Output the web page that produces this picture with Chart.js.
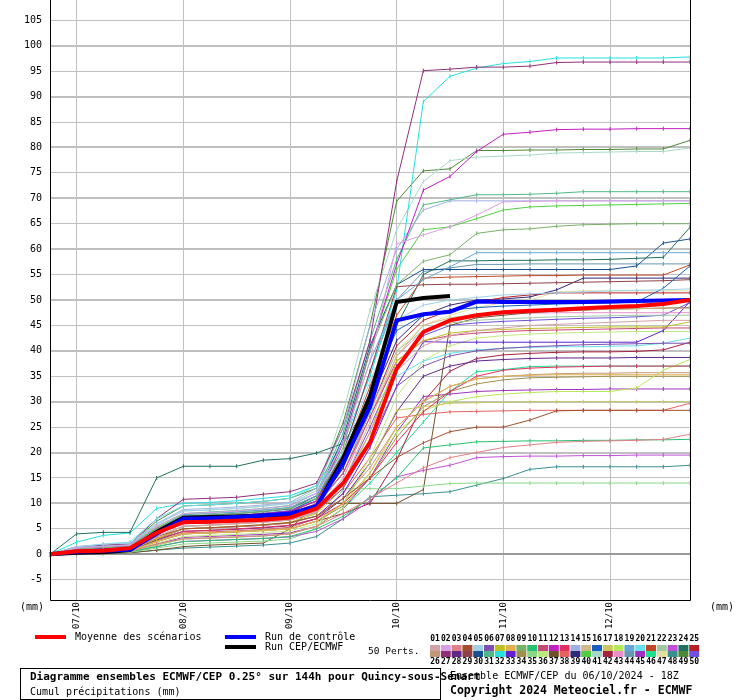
<!DOCTYPE html>
<html>
<head>
<meta charset="utf-8">
<script src="https://cdn.jsdelivr.net/npm/chart.js@4.4.1/dist/chart.umd.min.js"></script>
<style>
body { margin: 0; background: #fff; }
</style>
</head>
<body>
<canvas id="myChart" width="740" height="700"></canvas>
<script>
//time steps (6h) from 06/10 18Z to 12/10 18Z
const steps = ['06/10 18Z', '07/10 00Z', '07/10 06Z', '07/10 12Z', '07/10 18Z',
    '08/10 00Z', '08/10 06Z', '08/10 12Z', '08/10 18Z',
    '09/10 00Z', '09/10 06Z', '09/10 12Z', '09/10 18Z',
    '10/10 00Z', '10/10 06Z', '10/10 12Z', '10/10 18Z',
    '11/10 00Z', '11/10 06Z', '11/10 12Z', '11/10 18Z',
    '12/10 00Z', '12/10 06Z', '12/10 12Z', '12/10 18Z'];
const yTicks = [-5, 0, 5, 10, 15, 20, 25, 30, 35, 40, 45, 50, 55, 60, 65, 70, 75, 80, 85, 90, 95, 100, 105];

//mean, control run and ECMWF run (mm)
const mean = [0, 0.6, 0.7, 1.2, 4.2, 6.3, 6.4, 6.6, 6.8, 7.2, 9, 14, 22, 36.5, 43.7, 46, 47, 47.6, 47.9, 48.1, 48.4, 48.6, 48.8, 49.2, 50];
const control = [0, 0.5, 0.7, 0.9, 4, 7, 7.1, 7.3, 7.6, 8, 9.5, 18, 29, 46, 47.2, 47.7, 49.7, 49.6, 49.6, 49.6, 49.6, 49.7, 49.8, 49.9, 50];
const ecmwf = [0, 0.3, 0.4, 0.8, 4.4, 7.2, 7.3, 7.4, 7.6, 7.7, 9.3, 19, 31, 49.6, 50.4, 50.8];

//50 perturbations (mm)
const perts = [
    [0, 0.5, 0.8, 1, 3.5, 5.5, 5.8, 6, 6.3, 6.8, 8.5, 14, 24, 36, 41, 43, 44, 44.5, 45, 45.2, 45.4, 45.6, 45.8, 46, 46],
    [0, 1.2, 1.5, 1.8, 5.5, 8, 8.2, 8.5, 9, 9.5, 12, 22, 38, 61, 62.8, 64.4, 66.7, 69.3, 69.4, 69.5, 69.5, 69.5, 69.5, 69.5, 69.5],
    [0, 0.3, 0.5, 0.6, 2, 3, 3.2, 3.4, 3.6, 4, 5.5, 8, 11, 14, 17, 19, 20, 21, 21.5, 22, 22.2, 22.3, 22.4, 22.6, 23.6],
    [0, 0.8, 1, 1.2, 3.5, 5, 5.2, 5.5, 5.8, 6.2, 7.5, 11, 15, 19, 21.9, 24.1, 25, 25, 26.4, 28.2, 28.3, 28.3, 28.3, 28.3, 28.3],
    [0, 1.5, 2, 2.2, 6, 8.5, 8.7, 9, 9.5, 10, 12, 20, 34, 46, 49, 50, 50.5, 51, 51.2, 51.4, 51.6, 51.8, 51.9, 52, 52.2],
    [0, 0.6, 0.9, 1, 4, 6, 6.2, 6.5, 6.8, 7.2, 8.5, 13, 22, 33, 37, 39, 40, 40.5, 40.8, 41, 41.2, 41.3, 41.4, 41.5, 41.5],
    [0, 0.4, 0.6, 0.8, 3, 5, 5.2, 5.5, 5.8, 6.3, 8, 13, 24, 38, 42, 43.5, 44, 44.2, 44.4, 44.5, 44.6, 44.7, 44.7, 44.7, 45.7],
    [0, 0.2, 0.4, 0.5, 2.5, 4, 4.2, 4.4, 4.6, 5, 6.5, 10, 16, 25, 30, 33, 34.5, 35, 35.2, 35.3, 35.3, 35.3, 35.3, 35.3, 35.3],
    [0, 1, 1.3, 1.5, 5, 7.5, 7.7, 8, 8.4, 9, 11, 21, 40, 53, 57.6, 58.9, 63.1, 63.8, 64, 64.5, 64.8, 64.9, 65, 65, 65],
    [0, 0.3, 0.4, 0.5, 1.5, 2.5, 2.7, 2.9, 3.1, 3.5, 5, 7.5, 11, 15, 20.9, 21.5, 22.1, 22.2, 22.3, 22.3, 22.4, 22.4, 22.5, 22.5, 22.6],
    [0, 0.7, 1, 1.2, 4, 6.5, 6.7, 7, 7.4, 8, 10, 16, 27, 38, 42, 43, 43.5, 43.8, 44, 44.1, 44.2, 44.3, 44.4, 44.5, 44.5],
    [0, 1, 1.3, 1.5, 5, 7, 7.3, 7.6, 8, 8.5, 10.5, 22, 40, 57, 71.6, 74.3, 79.2, 82.6, 83, 83.5, 83.6, 83.6, 83.7, 83.7, 83.7],
    [0, 0.5, 0.7, 0.9, 3, 4.5, 4.7, 5, 5.3, 5.7, 7, 10, 15, 22, 28, 32, 35, 36.2, 36.6, 36.8, 36.9, 37, 37, 37, 37],
    [0, 1.3, 1.6, 1.9, 6, 8.8, 9, 9.3, 9.7, 10.2, 13, 25, 45, 60, 67.7, 69.5, 69.5, 69.5, 69.5, 69.5, 69.5, 69.5, 69.5, 69.5, 69.5],
    [0, 0.6, 0.8, 1, 3.5, 5.5, 5.7, 6, 6.3, 6.8, 8.2, 14, 26, 39, 45, 46.5, 47.2, 47.6, 47.9, 48, 48.1, 48.2, 48.3, 48.4, 48.4],
    [0, 0.9, 1.2, 1.4, 4.5, 7, 7.2, 7.5, 7.9, 8.5, 11, 19, 32, 44, 47, 48, 48.5, 48.8, 49, 49.2, 49.3, 49.4, 49.6, 52.3, 56.7],
    [0, 0.4, 0.5, 0.7, 2.5, 4, 4.2, 4.4, 4.7, 5, 6.5, 10, 18, 28.3, 29, 29.7, 29.8, 29.9, 30, 30, 30, 30, 30, 30, 30],
    [0, 0.2, 0.3, 0.4, 1.8, 3, 3.2, 3.4, 3.6, 4, 5.5, 9, 16, 24, 28.3, 30, 31, 31.5, 31.8, 32, 32, 32, 32.7, 36.2, 38.3],
    [0, 1.1, 1.4, 1.6, 5, 7.8, 8, 8.3, 8.7, 9.2, 11.5, 22, 38, 50, 54, 56.5, 59.3, 59.3, 59.3, 59.3, 59.3, 59.3, 59.3, 59.3, 59.3],
    [0, 1.4, 2, 2.4, 7, 9.5, 9.7, 10, 10.4, 11, 13.5, 20, 28, 35, 38, 39.5, 40.2, 40.5, 40.7, 40.8, 40.8, 40.9, 41, 41.5, 42.5],
    [0, 0.8, 1.1, 1.3, 4.5, 7, 7.2, 7.5, 7.8, 8.3, 10.5, 19, 33, 47, 54.3, 54.5, 54.6, 54.7, 54.8, 54.8, 54.9, 54.9, 54.9, 54.9, 56.9],
    [0, 0.9, 1.1, 1.3, 4.2, 6.5, 6.7, 7, 7.3, 7.8, 9.5, 16, 28, 40, 44, 45.5, 46, 46.3, 46.5, 46.7, 46.8, 46.9, 47, 47, 47],
    [0, 0.3, 0.4, 0.5, 1.5, 2.5, 2.7, 2.9, 3.1, 3.4, 4.5, 7, 10.5, 15.2, 16.5, 17.5, 19, 19.2, 19.3, 19.3, 19.4, 19.4, 19.5, 19.5, 19.5],
    [0, 4, 4.3, 4.3, 15, 17.3, 17.3, 17.3, 18.5, 18.8, 19.9, 21.8, 30, 45, 55, 57.7, 57.7, 57.8, 57.8, 57.9, 57.9, 58, 58.2, 58.4, 64.3],
    [0, 0.7, 1, 1.2, 4, 6.3, 6.5, 6.8, 7.1, 7.6, 9.5, 16, 28, 41, 46, 48, 49.5, 50.5, 51, 51.4, 51.4, 51.4, 51.4, 51.4, 51.4],
    [0, 0.6, 0.9, 1, 3.2, 5, 5.2, 5.4, 5.7, 6.1, 7.5, 11, 17, 25, 30, 33, 34.5, 35, 35.3, 35.5, 35.6, 35.6, 35.7, 35.7, 35.7],
    [0, 1.5, 1.8, 2, 7, 10.8, 11, 11.2, 11.8, 12.3, 14, 25, 42, 73.3, 95.1, 95.4, 95.8, 95.8, 96, 96.7, 96.8, 96.8, 96.8, 96.8, 96.8],
    [0, 0.5, 0.7, 0.8, 2.8, 4.5, 4.7, 4.9, 5.2, 5.6, 7, 11, 18, 28, 35, 37, 38, 38.3, 38.5, 38.6, 38.6, 38.6, 38.7, 38.7, 38.7],
    [0, 0.9, 1.2, 1.4, 4.6, 7, 7.2, 7.5, 7.9, 8.4, 10.5, 20, 36, 52.6, 53, 53.1, 53.1, 53.2, 53.3, 53.4, 53.5, 53.6, 53.7, 53.8, 54],
    [0, 1, 1.3, 1.5, 5, 7.5, 7.7, 8, 8.4, 8.9, 11.5, 23, 41, 53, 56, 56, 56, 56, 56, 56, 56, 56, 56.7, 61.2, 62],
    [0, 1.2, 1.5, 1.8, 5.5, 8, 8.3, 8.6, 9, 9.6, 12, 24, 42, 58, 68.7, 69.7, 70.7, 70.7, 70.8, 71, 71.3, 71.3, 71.3, 71.3, 71.3],
    [0, 2.4, 3.7, 4.2, 9, 10, 10.2, 10.5, 11, 11.5, 13.5, 22, 35, 52, 89, 94, 95.6, 96.5, 96.9, 97.6, 97.6, 97.6, 97.6, 97.6, 97.8],
    [0, 0.5, 0.7, 0.9, 3, 5, 5.2, 5.4, 5.7, 6.2, 7.5, 12, 21, 33, 41.8, 41.7, 41.7, 41.7, 41.7, 41.7, 41.7, 41.7, 41.7, 44, 49.7],
    [0, 0.4, 0.6, 0.7, 2.5, 4, 4.2, 4.4, 4.7, 5, 6.5, 9.5, 15, 23, 29, 32, 33.5, 34.3, 34.7, 34.8, 34.9, 35, 35, 35, 35],
    [0, 0.2, 0.3, 0.4, 1.2, 2, 2.2, 2.4, 2.6, 3, 5, 12.9, 12.9, 12.9, 13.4, 13.9, 14, 14, 14, 14, 14, 14, 14, 14, 14],
    [0, 0.3, 0.5, 0.6, 2.2, 3.5, 3.7, 3.9, 4.2, 4.6, 6, 10, 19, 31, 38, 41, 42.5, 43, 43.3, 43.5, 43.6, 43.7, 43.8, 43.8, 43.8],
    [0, 0.1, 0.2, 0.3, 0.8, 1.5, 1.8, 2, 2.2, 5, 10, 10, 10, 10, 12.7, 45, 46.5, 47, 47.5, 47.8, 48, 48.2, 48.3, 48.4, 48.5],
    [0, 0.4, 0.6, 0.7, 2.6, 4.2, 4.4, 4.6, 4.9, 5.3, 7, 12, 19, 26.8, 27.5, 28, 28.1, 28.2, 28.3, 28.3, 28.3, 28.3, 28.3, 28.3, 29.7],
    [0, 0.7, 1, 1.2, 4, 6.2, 6.4, 6.7, 7, 7.5, 9.5, 17, 30, 42, 47, 49, 50, 50.2, 50.6, 52, 54.3, 54.3, 54.3, 54.3, 54.3],
    [0, 1.1, 1.4, 1.7, 5.2, 7.8, 8, 8.3, 8.7, 9.2, 11.5, 22, 40, 56, 63.8, 64.4, 66, 67.7, 68.3, 68.5, 68.6, 68.7, 68.8, 68.9, 69],
    [0, 1.3, 1.6, 1.8, 5.8, 8.5, 8.7, 9, 9.4, 10, 12.5, 28, 48, 63.8, 73.3, 77.4, 78.1, 78.3, 78.5, 78.9, 79, 79.1, 79.2, 79.2, 79.9],
    [0, 0.4, 0.6, 0.7, 2.5, 4, 4.2, 4.4, 4.7, 5, 6.5, 8, 10, 18.5, 30, 36, 38.5, 39.2, 39.5, 39.7, 39.8, 39.8, 39.9, 40.2, 41.7],
    [0, 0.8, 1, 1.2, 4, 6, 6.2, 6.5, 6.8, 7.3, 9, 15, 27, 39, 44, 46, 47, 47.3, 47.4, 47.5, 47.5, 47.5, 47.5, 47.5, 47.5],
    [0, 1, 1.3, 1.5, 4.8, 7.2, 7.4, 7.7, 8.1, 8.6, 11, 20, 36, 50, 55.6, 56.3, 57, 57, 57.1, 57.1, 57.1, 57.1, 57.1, 57.1, 57.1],
    [0, 0.3, 0.5, 0.6, 2, 3.3, 3.5, 3.7, 3.9, 4.2, 5.5, 9, 15, 24, 31, 31.5, 32, 32.2, 32.3, 32.4, 32.4, 32.5, 32.5, 32.5, 32.5],
    [0, 0.3, 0.4, 0.5, 1.8, 3, 3.2, 3.4, 3.6, 4, 5.5, 9, 14, 20, 26, 32, 35.9, 36.3, 36.9, 37, 37, 37, 37, 37, 37],
    [0, 0.6, 0.9, 1, 3.5, 5.5, 5.7, 6, 6.3, 6.8, 8.5, 15, 27, 40, 45, 47, 48.5, 49.5, 50, 51.6, 51.8, 51.8, 51.8, 51.8, 51.8],
    [0, 0.1, 0.2, 0.3, 0.8, 1.2, 1.4, 1.6, 1.8, 2.2, 3.5, 7, 11.3, 11.6, 11.9, 12.3, 13.6, 14.9, 16.7, 17.2, 17.2, 17.2, 17.2, 17.2, 17.5],
    [0, 1.4, 1.7, 2, 6.5, 9.5, 9.7, 10, 10.4, 11, 13, 26, 45, 69.4, 75.4, 75.8, 79.4, 79.4, 79.5, 79.5, 79.6, 79.6, 79.7, 79.7, 81.4],
    [0, 0.6, 0.8, 1, 3.5, 5.5, 5.7, 6, 6.3, 6.7, 8.2, 14, 25, 37, 43, 45, 45.5, 45.8, 46, 46.2, 46.4, 46.5, 46.7, 47, 49.5]
];
const pertColors = ['#d4a0a8', '#d8a0e0', '#e08088', '#a05030', '#a0d0e8', '#8050b0', '#c0c020', '#e0b050', '#78b068', '#28c070',
    '#c84878', '#c020c0', '#e03060', '#a0b0e0', '#d0b888', '#1860c0', '#c8c860', '#b8e858', '#68a8d8', '#68e0e8',
    '#c04828', '#a0c8a0', '#c050d8', '#207060', '#b82028', '#c09878', '#903078', '#602888', '#904048', '#185090',
    '#50b888', '#28e0e0', '#6020d0', '#a09050', '#88d888', '#c0e880', '#705028', '#e86060', '#302878', '#50d040',
    '#a8d8c8', '#a82040', '#e890c8', '#6898b0', '#a030c0', '#20e090', '#e0e0a0', '#389090', '#508838', '#7050e0'];

const datasets = [
    { label: 'Moyenne des scénarios', data: mean, borderColor: '#ff0000', borderWidth: 4, pointRadius: 0, order: 0 },
    { label: 'Run de contrôle', data: control, borderColor: '#0000ff', borderWidth: 4, pointRadius: 0, order: 1 },
    { label: 'Run CEP/ECMWF', data: ecmwf, borderColor: '#000000', borderWidth: 4, pointRadius: 0, order: 2 }
];
perts.forEach((p, i) => {
    datasets.push({
        label: 'Pert ' + (i + 1),
        data: p,
        borderColor: pertColors[i],
        borderWidth: 1,
        pointStyle: 'line',
        pointRotation: 90,
        pointRadius: 2,
        pointBorderWidth: 1,
        pointBorderColor: pertColors[i],
        order: 3 + i
    });
});

const mono = 'DejaVu Sans Mono';

//frame, legend and titles
const decor = {
    id: 'decor',
    afterDraw(chart) {
        const c = chart.ctx;
        const a = chart.chartArea;
        c.save();
        c.strokeStyle = '#000';
        c.lineWidth = 1;
        c.beginPath();
        c.moveTo(a.left + 0.5, a.top);
        c.lineTo(a.left + 0.5, a.bottom + 0.5);
        c.lineTo(a.right + 0.5, a.bottom + 0.5);
        c.lineTo(a.right + 0.5, a.top);
        c.stroke();

        c.fillStyle = '#000';
        c.textBaseline = 'middle';
        c.font = '10px ' + mono;
        c.fillText('(mm)', 20, 607);
        c.fillText('(mm)', 710, 607);

        //line legend
        c.fillStyle = '#ff0000';
        c.fillRect(35, 635, 31, 4);
        c.fillStyle = '#0000ff';
        c.fillRect(225, 635, 31, 4);
        c.fillStyle = '#000';
        c.fillRect(225, 645, 31, 4);
        c.fillText('Moyenne des scénarios', 75, 637);
        c.fillText('Run de contrôle', 265, 637);
        c.fillText('Run CEP/ECMWF', 265, 647);

        //perturbation colours
        c.font = '9.5px ' + mono;
        c.fillText('50 Perts.', 368, 652);
        c.font = 'bold 8px ' + mono;
        c.textAlign = 'center';
        for (let i = 0; i < 25; i++) {
            const x = 430 + i * 10.8;
            c.fillStyle = pertColors[i];
            c.fillRect(x, 645, 10, 6);
            c.fillStyle = pertColors[i + 25];
            c.fillRect(x, 651, 10, 6);
            c.fillStyle = '#000';
            c.fillText(String(i + 1).padStart(2, '0'), x + 5, 639);
            c.fillText(String(i + 26), x + 5, 662);
        }
        c.textAlign = 'left';

        //title box
        c.strokeRect(20.5, 668.5, 420, 31);
        c.font = 'bold 11px ' + mono;
        c.fillText('Diagramme ensembles ECMWF/CEP 0.25° sur 144h pour Quincy-sous-Sénart', 30, 677);
        c.font = '10px ' + mono;
        c.fillText('Cumul précipitations (mm)', 30, 692);
        c.fillText('Ensemble ECMWF/CEP du 06/10/2024 - 18Z', 450, 676);
        c.font = 'bold 11.5px ' + mono;
        c.fillText('Copyright 2024 Meteociel.fr - ECMWF', 450, 691);
        c.restore();
    }
};

const ctx = document.getElementById('myChart');
const myChart = new Chart(ctx, {
    type: 'line',
    data: {
        labels: steps,
        datasets: datasets
    },
    options: {
        responsive: false,
        animation: false,
        devicePixelRatio: 1,
        layout: { autoPadding: false, padding: { left: 0, right: 50, top: 0, bottom: 0 } },
        elements: { line: { tension: 0 } },
        plugins: {
            legend: { display: false },
            tooltip: { enabled: false }
        },
        scales: {
            x: {
                type: 'category',
                offset: false,
                afterFit: s => { s.height = 100; s.paddingLeft = 0; s.paddingRight = 0; },
                border: { display: false },
                grid: {
                    offset: false,
                    drawTicks: false,
                    color: c => steps[c.index] && steps[c.index].endsWith('00Z') ? '#c0c0c0' : 'rgba(0,0,0,0)',
                    lineWidth: 1
                },
                ticks: {
                    autoSkip: false,
                    maxRotation: 90,
                    minRotation: 90,
                    padding: 2,
                    color: '#000',
                    font: { family: mono, size: 9 },
                    callback: (v, i) => steps[i].endsWith('00Z') ? steps[i].slice(0, 5) : ''
                }
            },
            y: {
                min: -9,
                max: 109,
                afterBuildTicks: s => { s.ticks = yTicks.map(v => ({ value: v })); },
                afterFit: s => { s.width = 50; s.paddingTop = 0; s.paddingBottom = 0; },
                border: { display: false },
                grid: {
                    drawTicks: false,
                    color: c => c.tick.value === 0 ? '#999999' : '#c0c0c0',
                    lineWidth: c => c.tick.value % 10 === 0 ? 2 : 1
                },
                ticks: {
                    padding: 8,
                    color: '#000',
                    font: { family: mono, size: 10, lineHeight: 0.1 }
                }
            }
        }
    },
    plugins: [decor]
});
</script>
</body>
</html>
